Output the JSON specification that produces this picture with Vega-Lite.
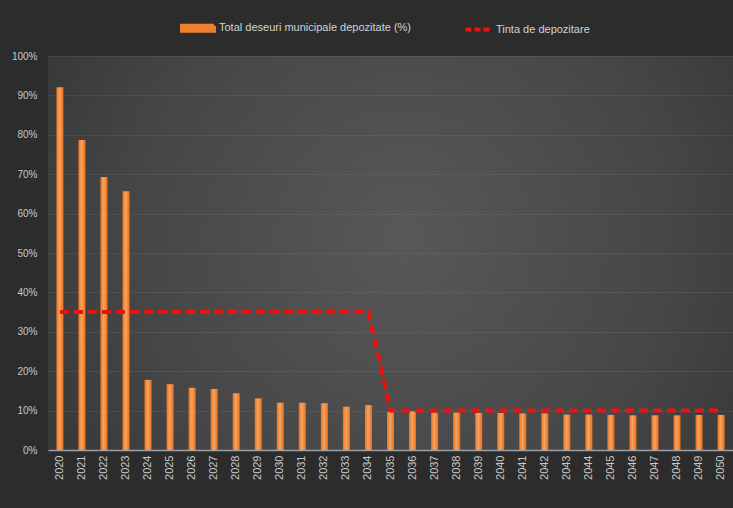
{
  "$schema": "https://vega.github.io/schema/vega-lite/v6.json",
  "width": 685,
  "height": 394,
  "autosize": {"type": "none"},
  "padding": {"left": 48, "top": 56, "right": 0, "bottom": 58},
  "background": "#2c2c2c",
  "config": {
    "font": "Liberation Sans",
    "view": {
      "stroke": null,
      "fill": {
        "gradient": "radial",
        "x1": 0.52, "y1": 0.48, "r1": 0,
        "x2": 0.52, "y2": 0.48, "r2": 0.72,
        "stops": [
          {"offset": 0, "color": "#585858"},
          {"offset": 0.55, "color": "#464646"},
          {"offset": 1, "color": "#2f2f2f"}
        ]
      }
    },
    "axis": {
      "labelColor": "#c8c8c8",
      "title": null,
      "ticks": false
    }
  },
  "data": {
    "values": [
      {"year": "2020", "waste": 0.921, "target": 0.35},
      {"year": "2021", "waste": 0.787, "target": 0.35},
      {"year": "2022", "waste": 0.693, "target": 0.35},
      {"year": "2023", "waste": 0.657, "target": 0.35},
      {"year": "2024", "waste": 0.178, "target": 0.35},
      {"year": "2025", "waste": 0.167, "target": 0.35},
      {"year": "2026", "waste": 0.158, "target": 0.35},
      {"year": "2027", "waste": 0.155, "target": 0.35},
      {"year": "2028", "waste": 0.144, "target": 0.35},
      {"year": "2029", "waste": 0.131, "target": 0.35},
      {"year": "2030", "waste": 0.120, "target": 0.35},
      {"year": "2031", "waste": 0.120, "target": 0.35},
      {"year": "2032", "waste": 0.119, "target": 0.35},
      {"year": "2033", "waste": 0.110, "target": 0.35},
      {"year": "2034", "waste": 0.114, "target": 0.35},
      {"year": "2035", "waste": 0.097, "target": 0.10},
      {"year": "2036", "waste": 0.098, "target": 0.10},
      {"year": "2037", "waste": 0.095, "target": 0.10},
      {"year": "2038", "waste": 0.095, "target": 0.10},
      {"year": "2039", "waste": 0.094, "target": 0.10},
      {"year": "2040", "waste": 0.094, "target": 0.10},
      {"year": "2041", "waste": 0.093, "target": 0.10},
      {"year": "2042", "waste": 0.093, "target": 0.10},
      {"year": "2043", "waste": 0.090, "target": 0.10},
      {"year": "2044", "waste": 0.090, "target": 0.10},
      {"year": "2045", "waste": 0.089, "target": 0.10},
      {"year": "2046", "waste": 0.088, "target": 0.10},
      {"year": "2047", "waste": 0.088, "target": 0.10},
      {"year": "2048", "waste": 0.088, "target": 0.10},
      {"year": "2049", "waste": 0.089, "target": 0.10},
      {"year": "2050", "waste": 0.089, "target": 0.10}
    ]
  },
  "encoding": {
    "x": {
      "field": "year",
      "type": "ordinal",
      "scale": {"paddingInner": 0.68, "paddingOuter": 0.38},
      "axis": {
        "labelAngle": -90,
        "labelPadding": 5,
        "labelFontSize": 11,
        "domainColor": "#9aa0a6",
        "domainWidth": 1.5,
        "grid": false
      }
    }
  },
  "layer": [
    {
      "mark": {
        "type": "bar",
        "fill": {
          "gradient": "linear",
          "x1": 0, "y1": 0, "x2": 1, "y2": 0,
          "stops": [
            {"offset": 0, "color": "#e8731f"},
            {"offset": 0.45, "color": "#f9a35e"},
            {"offset": 1, "color": "#e56f1c"}
          ]
        }
      },
      "encoding": {
        "y": {
          "field": "waste",
          "type": "quantitative",
          "scale": {"domain": [0, 1]},
          "axis": {
            "format": ".0%",
            "values": [0, 0.1, 0.2, 0.3, 0.4, 0.5, 0.6, 0.7, 0.8, 0.9, 1],
            "labelPadding": 11,
            "labelFontSize": 10,
            "domain": false,
            "gridColor": "#9a9a9a",
            "gridOpacity": 0.15
          }
        }
      }
    },
    {
      "mark": {
        "type": "line",
        "strokeWidth": 4,
        "strokeDash": [9, 5],
        "strokeCap": "butt"
      },
      "encoding": {
        "y": {
          "field": "target",
          "type": "quantitative",
          "axis": {
            "format": ".0%",
            "values": [0, 0.1, 0.2, 0.3, 0.4, 0.5, 0.6, 0.7, 0.8, 0.9, 1],
            "labelPadding": 11,
            "labelFontSize": 10,
            "domain": false,
            "gridColor": "#9a9a9a",
            "gridOpacity": 0.15
          }
        },
        "color": {
          "datum": "Tinta de depozitare",
          "type": "nominal",
          "scale": {
            "domain": ["Total deseuri municipale depozitate (%)", "Tinta de depozitare"],
            "range": ["#ef7f2e", "#ee1111"]
          },
          "legend": {
            "title": null,
            "orient": "none",
            "direction": "horizontal",
            "legendX": 132,
            "legendY": -46,
            "symbolSize": 1024,
            "labelOffset": 3,
            "labelLimit": 400,
            "columnPadding": 46,
            "labelColor": "#d2d2d2",
            "labelFontSize": 11,
            "encode": {
              "symbols": {
                "update": {
                  "shape": {"signal": "datum.value === 'Tinta de depozitare' ? 'M-0.6,0H1' : 'M-1,-0.16H1V0.16H-1Z'"},
                  "fill": {"signal": "datum.value === 'Tinta de depozitare' ? 'transparent' : '#ef7f2e'"},
                  "stroke": {"signal": "datum.value === 'Tinta de depozitare' ? '#ee1111' : 'transparent'"},
                  "strokeWidth": {"value": 4},
                  "strokeDash": {"signal": "datum.value === 'Tinta de depozitare' ? [6, 3] : [1, 0]"},
                  "opacity": {"value": 1}
                }
              }
            }
          }
        }
      }
    }
  ]
}
